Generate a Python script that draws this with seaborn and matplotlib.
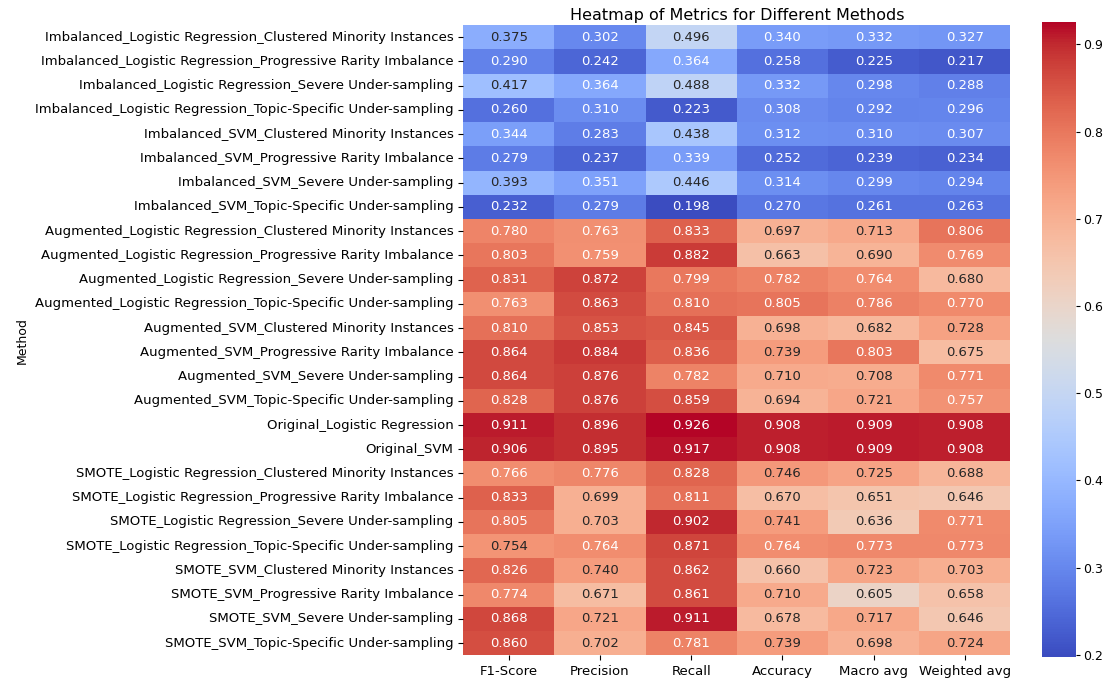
import numpy as np
import pandas as pd
import seaborn as sns
from matplotlib import pyplot as plt

methods = [
    "Imbalanced_Logistic Regression_Clustered Minority Instances",
    "Imbalanced_Logistic Regression_Progressive Rarity Imbalance",
    "Imbalanced_Logistic Regression_Severe Under-sampling",
    "Imbalanced_Logistic Regression_Topic-Specific Under-sampling",
    "Imbalanced_SVM_Clustered Minority Instances",
    "Imbalanced_SVM_Progressive Rarity Imbalance",
    "Imbalanced_SVM_Severe Under-sampling",
    "Imbalanced_SVM_Topic-Specific Under-sampling",
    "Augmented_Logistic Regression_Clustered Minority Instances",
    "Augmented_Logistic Regression_Progressive Rarity Imbalance",
    "Augmented_Logistic Regression_Severe Under-sampling",
    "Augmented_Logistic Regression_Topic-Specific Under-sampling",
    "Augmented_SVM_Clustered Minority Instances",
    "Augmented_SVM_Progressive Rarity Imbalance",
    "Augmented_SVM_Severe Under-sampling",
    "Augmented_SVM_Topic-Specific Under-sampling",
    "Original_Logistic Regression",
    "Original_SVM",
    "SMOTE_Logistic Regression_Clustered Minority Instances",
    "SMOTE_Logistic Regression_Progressive Rarity Imbalance",
    "SMOTE_Logistic Regression_Severe Under-sampling",
    "SMOTE_Logistic Regression_Topic-Specific Under-sampling",
    "SMOTE_SVM_Clustered Minority Instances",
    "SMOTE_SVM_Progressive Rarity Imbalance",
    "SMOTE_SVM_Severe Under-sampling",
    "SMOTE_SVM_Topic-Specific Under-sampling",
]

metrics = ["F1-Score", "Precision", "Recall", "Accuracy", "Macro avg", "Weighted avg"]

f1 = [0.375, 0.290, 0.417, 0.260, 0.344, 0.279, 0.393, 0.232,
      0.780, 0.803, 0.831, 0.763, 0.810, 0.864, 0.864, 0.828,
      0.911, 0.906,
      0.766, 0.833, 0.805, 0.754, 0.826, 0.774, 0.868, 0.860]
precision = [0.302, 0.242, 0.364, 0.310, 0.283, 0.237, 0.351, 0.279,
             0.763, 0.759, 0.872, 0.863, 0.853, 0.884, 0.876, 0.876,
             0.896, 0.895,
             0.776, 0.699, 0.703, 0.764, 0.740, 0.671, 0.721, 0.702]
recall = [0.496, 0.364, 0.488, 0.223, 0.438, 0.339, 0.446, 0.198,
          0.833, 0.882, 0.799, 0.810, 0.845, 0.836, 0.782, 0.859,
          0.926, 0.917,
          0.828, 0.811, 0.902, 0.871, 0.862, 0.861, 0.911, 0.781]
accuracy = [0.340, 0.258, 0.332, 0.308, 0.312, 0.252, 0.314, 0.270,
            0.697, 0.663, 0.782, 0.805, 0.698, 0.739, 0.710, 0.694,
            0.908, 0.908,
            0.746, 0.670, 0.741, 0.764, 0.660, 0.710, 0.678, 0.739]
macro_avg = [0.332, 0.225, 0.298, 0.292, 0.310, 0.239, 0.299, 0.261,
             0.713, 0.690, 0.764, 0.786, 0.682, 0.803, 0.708, 0.721,
             0.909, 0.909,
             0.725, 0.651, 0.636, 0.773, 0.723, 0.605, 0.717, 0.698]
weighted_avg = [0.327, 0.217, 0.288, 0.296, 0.307, 0.234, 0.294, 0.263,
                0.806, 0.769, 0.680, 0.770, 0.728, 0.675, 0.771, 0.757,
                0.908, 0.908,
                0.688, 0.646, 0.771, 0.773, 0.703, 0.658, 0.646, 0.724]


def main():
    df = pd.DataFrame({"F1-Score": f1, "Precision": precision, "Recall": recall,
                       "Accuracy": accuracy, "Macro avg": macro_avg,
                       "Weighted avg": weighted_avg}, index=methods)[metrics]
    df.index.name = "Method"

    fig = plt.figure(figsize=(11.08, 6.79), dpi=100)
    ax = fig.add_axes([0.418, 0.035, 0.494, 0.928])
    cax = fig.add_axes([0.940, 0.033, 0.031, 0.935])
    sns.heatmap(df, annot=True, fmt=".3f", cmap="coolwarm", ax=ax, cbar_ax=cax,
                annot_kws={"fontsize": 9.5})
    ax.set_title("Heatmap of Metrics for Different Methods", fontsize=11.5, pad=4)
    ax.set_ylabel("Method", fontsize=9)
    ax.set_xlabel("")
    ax.tick_params(axis="both", labelsize=9.5)
    plt.setp(ax.get_yticklabels(), rotation=0)
    plt.setp(ax.get_xticklabels(), rotation=0)
    cax.tick_params(labelsize=9, length=3, pad=2)
    fig.savefig("out.png", dpi=100)


if __name__ == "__main__":
    main()
